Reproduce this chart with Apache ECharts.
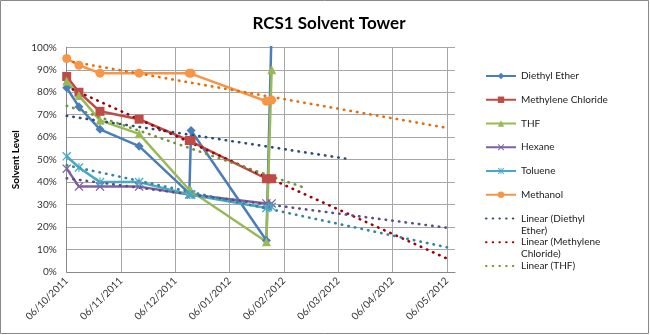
<!DOCTYPE html>
<html><head><meta charset="utf-8">
<script src="https://cdn.jsdelivr.net/npm/echarts@6/dist/echarts.min.js"></script>
<style>html,body{margin:0;padding:0;background:#fff}#c{width:650px;height:335px}</style>
</head><body><div id="c"></div>
<script>
// ---- data ----
const dates = ['2011-10-06','2011-10-13','2011-10-25','2011-11-16','2011-12-14','2011-12-15','2012-01-27','2012-01-30'];
const diethylEther = [82, 73.5, 63.5, 56, 35, 63, 14, 110];
const methyleneChloride = [87, 80, 71.5, 68, 58.5, 58.5, 41.5, 41.5];
const thf = [85, 78.5, 67.5, 61.5, 36.5, 36, 13.5, 90];
const hexane = [46, 38, 38, 38, 34.5, 34.5, 30.5, 30.5];
const toluene = [51.5, 46.5, 40, 40, 34.5, 34.5, 28.5, 29];
const methanol = [95, 92, 88.5, 88.5, 88.5, 88.5, 76, 76.5];
// linear trend lines: [start date, end date], [start %, end %]
const trendDiethylDates = ['2011-10-06','2012-03-10'];  const trendDiethyl = [69.5, 50.5];
const trendMethyleneDates = ['2011-10-06','2012-05-08']; const trendMethylene = [82.5, 5.3];
const trendThfDates = ['2011-10-06','2012-02-17'];      const trendThf = [74, 37.5];
const trendHexaneDates = ['2011-10-06','2012-05-08'];   const trendHexane = [41.7, 19.5];
const trendTolueneDates = ['2011-10-06','2012-05-09'];  const trendToluene = [47.5, 10.5];
const trendMethanolDates = ['2011-10-06','2012-05-07']; const trendMethanol = [94, 64];
const tickLabels = ['06/10/2011','06/11/2011','06/12/2011','06/01/2012','06/02/2012','06/03/2012','06/04/2012','06/05/2012'];

// month index counted from 6 Oct 2011 (ticks fall on the 6th of each month)
function toX(s){
  const p = s.split('-').map(Number);
  const t = Date.UTC(p[0], p[1]-1, p[2]);
  for (let k=0;k<24;k++){
    const a = Date.UTC(2011, 9+k, 6), b = Date.UTC(2011, 10+k, 6);
    if (t < b) return k + (t-a)/(b-a);
  }
}
function pts(ds, vs){ return ds.map((d,i)=>[toX(d), vs[i]/100]); }

const FONT = 'Lato';
const xSym = 'path://M0,1 L1,0 L5,4 L9,0 L10,1 L6,5 L10,9 L9,10 L5,6 L1,10 L0,9 L4,5 Z';
const starSym = 'path://M0,1 L1,0 L4.4,3.4 L4.4,0 L5.6,0 L5.6,3.4 L9,0 L10,1 L6.4,4.6 L6.4,5.4 L10,9 L9,10 L5.6,6.6 L5.6,10 L4.4,10 L4.4,6.6 L1,10 L0,9 L3.6,5.4 L3.6,4.6 Z';

function lineSeries(name, data, color, symbol, size){
  return {name, type:'line', data: pts(dates, data), color,
    symbol, symbolSize: size, showSymbol: true,
    lineStyle:{width:2.5, color}, itemStyle:{color}, clip:true, animation:false};
}
function trendSeries(name, ds, vs, color){
  return {name, type:'line', data: pts(ds, vs), color, symbol:'none',
    lineStyle:{width:2.6, color, type:[0.5,6.2], cap:'round'}, clip:true, animation:false, z:3};
}

const series = [
  lineSeries('Diethyl Ether', diethylEther, '#4A7EBB', 'diamond', 9),
  lineSeries('Methylene Chloride', methyleneChloride, '#BE4B48', 'rect', 9),
  lineSeries('THF', thf, '#98B954', 'triangle', 9),
  lineSeries('Hexane', hexane, '#7D60A0', xSym, 9),
  lineSeries('Toluene', toluene, '#46AAC5', starSym, 9),
  lineSeries('Methanol', methanol, '#F79646', 'circle', 9),
  trendSeries('Linear (Diethyl Ether)', trendDiethylDates, trendDiethyl, '#2C4D75'),
  trendSeries('Linear (Methylene Chloride)', trendMethyleneDates, trendMethylene, '#A00000'),
  trendSeries('Linear (THF)', trendThfDates, trendThf, '#76923C'),
  trendSeries('Linear (Hexane)', trendHexaneDates, trendHexane, '#5F4B8B'),
  trendSeries('Linear (Toluene)', trendTolueneDates, trendToluene, '#31859C'),
  trendSeries('Linear (Methanol)', trendMethanolDates, trendMethanol, '#E46C0A')
];

const legendNames = ['Diethyl Ether','Methylene Chloride','THF','Hexane','Toluene','Methanol',
  'Linear (Diethyl Ether)','Linear (Methylene Chloride)','Linear (THF)'];
const legendText = {'Linear (Diethyl Ether)':' \nLinear (Diethyl\nEther)',
  'Linear (Methylene Chloride)':' \nLinear (Methylene\nChloride)'};
const legends = legendNames.map((n,i)=>{
  const cy = 71 + i*23.75;
  const lines = legendText[n] ? 3 : 1;
  const isTrend = n.indexOf('Linear') === 0;
  const item = isTrend ? {name:n, itemStyle:{opacity:0, color:'rgba(0,0,0,0)', borderWidth:0}} : {name:n};
  return {data:[item], left:480, top: cy - lines*12/2, itemWidth:30, itemHeight:8, itemGap:0,
    selectedMode:false, formatter: nm => legendText[nm] || nm,
    textStyle:{fontFamily:FONT, fontSize:10, color:'#222', lineHeight:12}};
});

const chart = echarts.init(document.getElementById('c'), null, {renderer:'canvas'});
chart.setOption({
  backgroundColor:'#fff',
  animation:false,
  title:{text:'RCS1 Solvent Tower', left:324, top:10, textAlign:'center',
    textStyle:{fontFamily:FONT, fontSize:17, fontWeight:'bold', color:'#000'}},
  grid:{left:66.7, right:195, top:47.3, bottom:63, containLabel:false},
  legend: legends,
  xAxis:{type:'value', min:0, max:7.15, interval:1,
    axisLine:{show:true, onZero:false, lineStyle:{color:'#888', width:1}},
    axisTick:{show:false},
    splitLine:{show:true, showMaxLine:false, lineStyle:{color:'#A6A6A6', width:1}},
    axisLabel:{rotate:45, margin:7, fontFamily:FONT, fontSize:10, color:'#333',
      showMaxLabel:false,
      formatter:v=> Number.isInteger(v) ? (tickLabels[v]||'') : ''}},
  yAxis:{type:'value', min:0, max:1, interval:0.1,
    name:'Solvent Level', nameLocation:'middle', nameGap:32,
    nameTextStyle:{fontFamily:FONT, fontSize:10, fontWeight:'bold', color:'#000'},
    axisLine:{show:true, lineStyle:{color:'#888', width:1}},
    axisTick:{show:false},
    splitLine:{show:true, lineStyle:{color:'#A6A6A6', width:1}},
    axisLabel:{margin:10, fontFamily:FONT, fontSize:10, color:'#333',
      formatter:v=> Math.round(v*100)+'%'}},
  graphic:[{type:'rect', shape:{x:0.5, y:0.5, width:648, height:333},
    style:{fill:'none', stroke:'#888', lineWidth:1}, silent:true, z:-1}],
  series
});
</script></body></html>
